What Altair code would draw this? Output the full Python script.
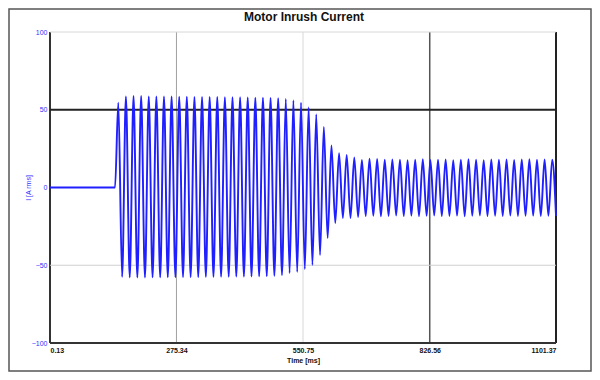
import altair as alt
import pandas as pd

# ---- data ----
x_ticks = [0.13, 275.34, 550.75, 826.56, 1101.37]
y_ticks = [-100, -50, 0, 50, 100]
chart_title = ["Motor Inrush Current"]

# flat (motor off) section
flat_t = [0.13, 141.6]
flat_v = [0.0, 0.0]

# 60 Hz cycles: first positive peak time and period (ms)
first_peak_t = 148.8
period = 16.567

# positive peak of each cycle (A)
pos_peaks = [54.5, 58.5, 58.8, 58.8, 58.6, 58.6, 58.5, 58.5, 58.4, 58.4,
             58.3, 58.3, 58.2, 58.2, 58.1, 58.0, 58.0, 57.9, 57.8, 57.7,
             57.6, 57.4, 57.0, 56.0, 54.5, 51.5, 47.0, 39.0, 27.0, 22.0,
             21.0, 19.3, 17.7, 18.6, 18.3, 17.9, 18.1, 17.8, 17.6, 17.9,
             18.2, 17.7, 17.9, 18.1, 17.6, 17.8, 18.2, 17.9, 17.6, 18.0,
             17.8, 18.1, 17.7, 18.0, 18.2, 17.8, 18.0, 17.9]
# negative peak of each cycle (A)
neg_peaks = [-57.5, -57.8, -57.9, -57.9, -57.8, -57.8, -57.7, -57.7, -57.6, -57.6,
             -57.6, -57.5, -57.5, -57.4, -57.4, -57.3, -57.3, -57.2, -57.1, -57.0,
             -56.8, -56.3, -55.0, -54.3, -52.4, -49.8, -43.4, -32.5, -22.8, -19.6,
             -19.6, -19.0, -18.4, -18.2, -18.6, -18.3, -18.0, -18.4, -18.1, -18.5,
             -18.2, -18.0, -18.4, -18.3, -18.1, -18.5, -18.2, -18.0, -18.4, -18.2,
             -18.3, -18.0, -18.4, -18.2, -18.1, -18.4, -18.2, -18.3]

# grid / frame lines
vgrid_t = [0.13, 275.34, 550.75, 826.56, 1101.37]
vgrid_color = ["#333333", "#a0a0a0", "#d8d8d8", "#555555", "#222222"]
vgrid_width = [2, 1, 1, 1.5, 2]
hgrid_v = [100, 50, -50, -100]
hgrid_color = ["#d8d8d8", "#222222", "#cfcfcf", "#333333"]
hgrid_width = [1, 2, 1, 2]

# ---- build table ----
t_list = list(flat_t)
v_list = list(flat_v)
for i, (p, n) in enumerate(zip(pos_peaks, neg_peaks)):
    t_list.append(first_peak_t + i * period)
    v_list.append(p)
    t_list.append(first_peak_t + i * period + period / 2)
    v_list.append(n)
wave = pd.DataFrame({"t": t_list, "v": v_list})

vgrid = pd.DataFrame({"t": vgrid_t, "c": vgrid_color, "w": vgrid_width})
hgrid = pd.DataFrame({"v": hgrid_v, "c": hgrid_color, "w": hgrid_width})

xscale = alt.Scale(domain=[0.13, 1101.37], nice=False, zero=False)
yscale = alt.Scale(domain=[-100, 100], nice=False)

frame = alt.Chart(pd.DataFrame({"a": [0]})).mark_rect(
    fill=None, stroke="#555555", strokeWidth=1.5
).encode(
    x=alt.value(-41), x2=alt.value(541), y=alt.value(-23), y2=alt.value(339)
)

title_text = alt.Chart(pd.DataFrame({"label": chart_title})).mark_text(
    font="Liberation Sans", fontSize=12, fontWeight="bold", color="#111111",
    align="center", baseline="middle"
).encode(x=alt.value(254), y=alt.value(-15), text="label:N")

vlines = alt.Chart(vgrid).mark_rule().encode(
    x=alt.X("t:Q", scale=xscale),
    color=alt.Color("c:N", scale=None),
    strokeWidth=alt.StrokeWidth("w:Q", scale=None),
)
hlines = alt.Chart(hgrid).mark_rule().encode(
    y=alt.Y("v:Q", scale=yscale),
    color=alt.Color("c:N", scale=None),
    strokeWidth=alt.StrokeWidth("w:Q", scale=None),
)

line = alt.Chart(wave).mark_line(
    color="#1f1fff", strokeWidth=1.9, interpolate="monotone"
).encode(
    x=alt.X("t:Q", scale=xscale,
            axis=alt.Axis(values=x_ticks, format=".2f", title="Time [ms]",
                          grid=False, domain=False, ticks=False,
                          labelFontSize=7, labelColor="#111111", labelPadding=3,
                          labelFont="Liberation Sans", labelFontWeight="bold",
                          titleFontSize=7, titleColor="#111111", titlePadding=3,
                          titleFont="Liberation Sans", titleFontWeight="bold")),
    y=alt.Y("v:Q", scale=yscale,
            axis=alt.Axis(values=y_ticks, format="d", title="I [A rms]",
                          grid=False, domain=False, ticks=False,
                          labelFontSize=7, labelColor="#3030ff", labelPadding=3,
                          labelFont="Liberation Sans",
                          titleFontSize=7, titleColor="#3030ff", titlePadding=0,
                          titleFont="Liberation Sans", titleFontWeight="normal")),
)

chart = alt.layer(frame, vlines, hlines, line, title_text).properties(
    width=506, height=311,
    autosize=alt.AutoSizeParams(type="none"),
    padding={"left": 42, "top": 24, "right": 36, "bottom": 29},
).configure_view(stroke=None)

chart.save("out.html", embed_options={"renderer": "svg", "actions": False})
